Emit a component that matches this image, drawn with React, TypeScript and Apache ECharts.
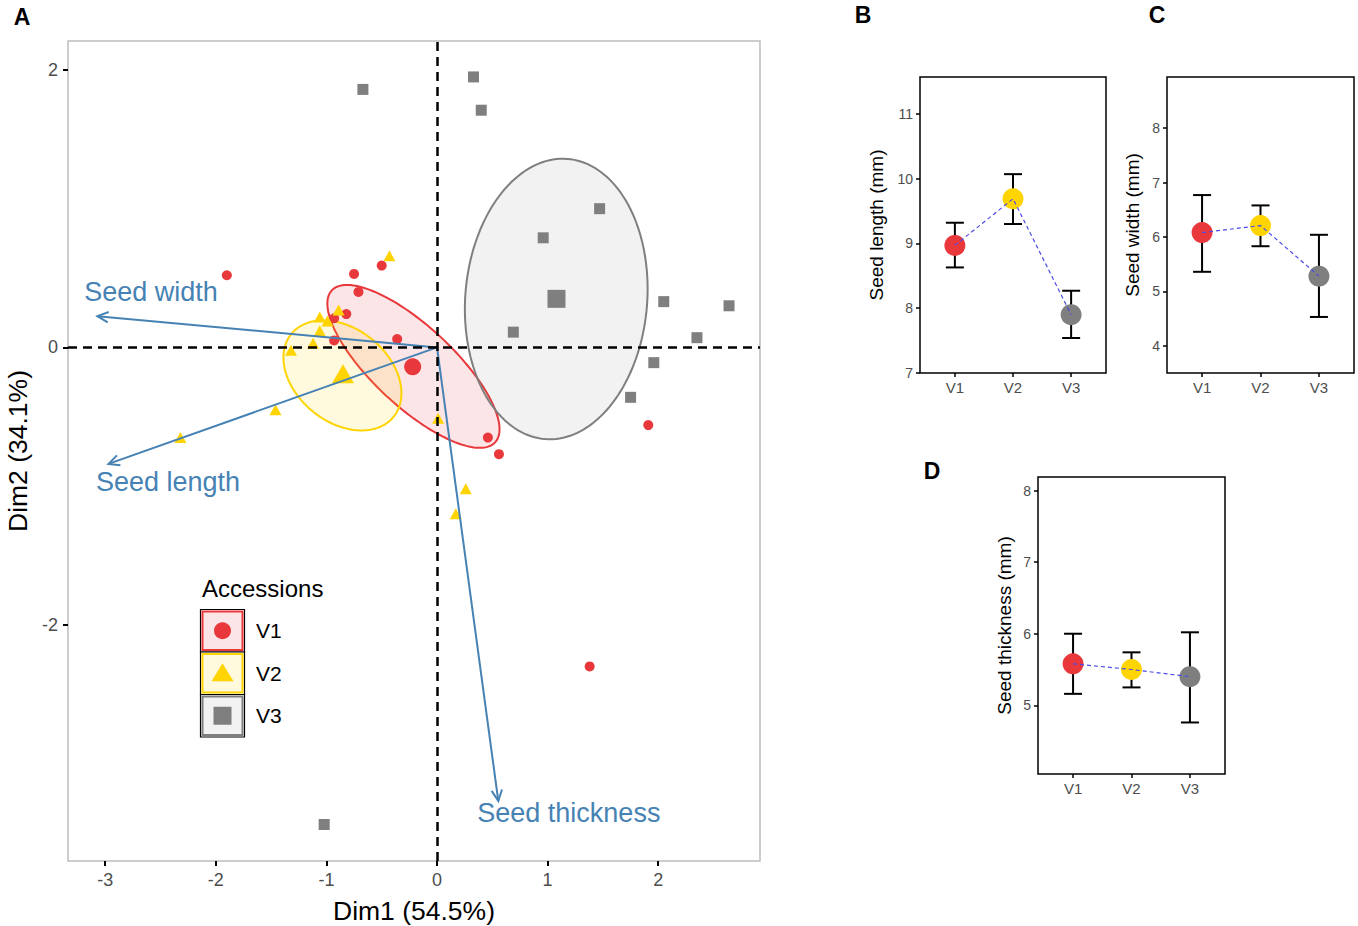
import React, { useEffect, useRef } from "react";
import * as echarts from "echarts";

// ---------- data ----------
const accessions = ["V1", "V2", "V3"];
const groupColors = ["#E8383C", "#FFD400", "#7F7F7F"];
const groupFills = ["rgba(232,56,60,0.13)", "rgba(255,212,0,0.13)", "rgba(127,127,127,0.10)"];

// PCA individual scores (Dim1, Dim2)
const v1Scores = [[-1.90, 0.52], [-0.75, 0.53], [-0.50, 0.59], [-0.71, 0.40], [-0.82, 0.24], [-0.93, 0.21], [-0.36, 0.06], [-0.93, 0.05], [0.46, -0.65], [0.56, -0.77], [1.91, -0.56], [1.38, -2.30]];
const v2Scores = [[-0.43, 0.66], [-1.06, 0.22], [-0.99, 0.19], [-0.89, 0.27], [-1.06, 0.12], [-1.12, 0.03], [-1.32, -0.02], [-1.46, -0.45], [-2.32, -0.65], [0.01, -0.51], [0.26, -1.02], [0.17, -1.20]];
const v3Scores = [[0.33, 1.95], [0.40, 1.71], [-0.67, 1.86], [1.47, 1.00], [0.96, 0.79], [2.05, 0.33], [2.64, 0.30], [0.69, 0.11], [2.35, 0.07], [1.96, -0.11], [1.75, -0.36], [-1.02, -3.44]];
const groupCentroids = [[-0.22, -0.14], [-0.85, -0.19], [1.08, 0.35]];

// confidence ellipses: centre and two conjugate half-axes (data units)
const ellipseCenters = [[-0.213, -0.137], [-0.855, -0.202], [1.078, 0.349]];
const ellipseAxisU = [[0.738, -0.548], [0.463, -0.298], [0.10, 1.01]];
const ellipseAxisV = [[-0.247, -0.211], [-0.265, -0.262], [0.82, -0.05]];

// variable loadings (arrows)
const variableNames = ["Seed width", "Seed length", "Seed thickness"];
const variableLoadings = [[-3.07, 0.225], [-2.97, -0.84], [0.554, -3.27]];
const variableLabelPos = [[-3.19, 0.396], [-3.083, -0.97], [0.364, -3.355]];

const dim1Ticks = [-3, -2, -1, 0, 1, 2];
const dim2Ticks = [-2, 0, 2];

// panel B/C/D means and error bars
const lengthMean = [8.97, 9.69, 7.90];
const lengthLow = [8.63, 9.30, 7.54];
const lengthHigh = [9.32, 10.07, 8.27];
const widthMean = [6.08, 6.21, 5.28];
const widthLow = [5.36, 5.83, 4.53];
const widthHigh = [6.77, 6.58, 6.04];
const thickMean = [5.58, 5.50, 5.40];
const thickLow = [5.16, 5.25, 4.76];
const thickHigh = [6.00, 5.74, 6.02];
const lengthTicks = [7, 8, 9, 10, 11];
const widthTicks = [4, 5, 6, 7, 8];
const thickTicks = [5, 6, 7, 8];

// ---------- style ----------
const FONT = "Liberation Sans, Arial, Helvetica, sans-serif";
const STEEL = "#4682B4";
const TICKCOL = "#4D4D4D";

export default function App() {
  const ref = useRef<HTMLDivElement>(null);

  useEffect(() => {
    if (!ref.current) return;
    const chart = echarts.init(ref.current, undefined, { renderer: "svg" });

    const gridBase = { show: true, containLabel: false, outerBoundsMode: "none", backgroundColor: "transparent" };
    const grids = [
      { ...gridBase, left: 68, top: 41, width: 692, height: 820, borderColor: "#BDBDBD", borderWidth: 1.5 },
      { ...gridBase, left: 920, top: 77, width: 186, height: 296, borderColor: "#000", borderWidth: 1.5 },
      { ...gridBase, left: 1167, top: 77, width: 187, height: 296, borderColor: "#000", borderWidth: 1.5 },
      { ...gridBase, left: 1038, top: 477, width: 187, height: 297, borderColor: "#000", borderWidth: 1.5 },
    ];

    const smallX = (gi: number) => ({
      type: "value",
      gridIndex: gi,
      min: 0.4,
      max: 3.6,
      splitLine: { show: false },
      axisLine: { show: false, onZero: false },
      axisTick: { show: true, customValues: [1, 2, 3], length: 4, lineStyle: { color: "#000", width: 1.5 } },
      axisLabel: {
        show: true,
        customValues: [1, 2, 3],
        formatter: (v: number) => accessions[Math.round(v) - 1] || "",
        color: TICKCOL,
        fontSize: 15,
        fontFamily: FONT,
        margin: 7,
      },
    });

    const smallY = (gi: number, min: number, max: number, ticks: number[], name: string, gap: number) => ({
      type: "value",
      gridIndex: gi,
      min,
      max,
      name,
      nameLocation: "middle",
      nameGap: gap,
      nameTextStyle: { fontSize: 19, fontFamily: FONT, color: "#000" },
      splitLine: { show: false },
      axisLine: { show: false, onZero: false },
      axisTick: { show: true, customValues: ticks, length: 4, lineStyle: { color: "#000", width: 1.5 } },
      axisLabel: { show: true, customValues: ticks, color: TICKCOL, fontSize: 14, fontFamily: FONT, margin: 7 },
    });

    const xAxes = [
      {
        type: "value",
        gridIndex: 0,
        min: -3.336,
        max: 2.92,
        name: "Dim1 (54.5%)",
        nameLocation: "middle",
        nameGap: 36,
        nameTextStyle: { fontSize: 26.5, fontFamily: FONT, color: "#000" },
        splitLine: { show: false },
        axisLine: { show: false, onZero: false },
        axisTick: { show: true, customValues: dim1Ticks, length: 5, lineStyle: { color: "#000", width: 2 } },
        axisLabel: { show: true, customValues: dim1Ticks, color: TICKCOL, fontSize: 18, fontFamily: FONT, margin: 10 },
      },
      smallX(1),
      smallX(2),
      smallX(3),
    ];
    const yAxes = [
      {
        type: "value",
        gridIndex: 0,
        min: -3.703,
        max: 2.209,
        name: "Dim2 (34.1%)",
        nameLocation: "middle",
        nameGap: 37,
        nameTextStyle: { fontSize: 26.5, fontFamily: FONT, color: "#000" },
        splitLine: { show: false },
        axisLine: { show: false, onZero: false },
        axisTick: { show: true, customValues: dim2Ticks, length: 5, lineStyle: { color: "#000", width: 2 } },
        axisLabel: { show: true, customValues: dim2Ticks, color: TICKCOL, fontSize: 18, fontFamily: FONT, margin: 10 },
      },
      smallY(1, 7.0, 11.57, lengthTicks, "Seed length (mm)", 34),
      smallY(2, 3.5, 8.94, widthTicks, "Seed width (mm)", 25),
      smallY(3, 4.04, 8.19, thickTicks, "Seed thickness (mm)", 24),
    ];

    const series: any[] = [];

    // ellipses
    for (let gi = 0; gi < 3; gi++) {
      series.push({
        type: "custom",
        name: accessions[gi] + " ellipse",
        xAxisIndex: 0,
        yAxisIndex: 0,
        silent: true,
        clip: false,
        z: 1,
        data: [ellipseCenters[gi]],
        renderItem: (_p: any, api: any) => {
          const c = ellipseCenters[gi];
          const u = ellipseAxisU[gi];
          const v = ellipseAxisV[gi];
          const pts: number[][] = [];
          const N = 160;
          for (let k = 0; k < N; k++) {
            const t = (2 * Math.PI * k) / N;
            pts.push(api.coord([c[0] + u[0] * Math.cos(t) + v[0] * Math.sin(t), c[1] + u[1] * Math.cos(t) + v[1] * Math.sin(t)]));
          }
          return {
            type: "polygon",
            shape: { points: pts },
            style: { fill: groupFills[gi], stroke: groupColors[gi], lineWidth: 2 },
          };
        },
      });
    }

    // dashed zero lines
    series.push({
      type: "line",
      name: "zero lines",
      xAxisIndex: 0,
      yAxisIndex: 0,
      data: [],
      z: 2,
      markLine: {
        silent: true,
        symbol: ["none", "none"],
        label: { show: false },
        lineStyle: { color: "#000", width: 2.5, type: [9, 6] },
        data: [{ xAxis: 0 }, { yAxis: 0 }],
      },
    });

    // individuals
    const scoreSets = [v1Scores, v2Scores, v3Scores];
    const symbols = ["circle", "triangle", "rect"];
    const smallSizes: any[] = [10, [12, 11], 11];
    const bigSizes: any[] = [17, [22, 19], 18];
    for (let gi = 0; gi < 3; gi++) {
      series.push({
        type: "scatter",
        name: accessions[gi],
        xAxisIndex: 0,
        yAxisIndex: 0,
        z: 3,
        symbol: symbols[gi],
        symbolSize: smallSizes[gi],
        itemStyle: { color: groupColors[gi], opacity: 1 },
        data: scoreSets[gi],
      });
      series.push({
        type: "scatter",
        name: accessions[gi] + " mean",
        xAxisIndex: 0,
        yAxisIndex: 0,
        z: 3,
        symbol: symbols[gi],
        symbolSize: bigSizes[gi],
        itemStyle: { color: groupColors[gi], opacity: 1 },
        data: [groupCentroids[gi]],
      });
    }

    // variable arrows
    series.push({
      type: "custom",
      name: "variables",
      xAxisIndex: 0,
      yAxisIndex: 0,
      silent: true,
      clip: false,
      z: 4,
      data: variableLoadings,
      renderItem: (_p: any, api: any) => {
        const o = api.coord([0, 0]);
        const p = api.coord([api.value(0), api.value(1)]);
        const ang = Math.atan2(p[1] - o[1], p[0] - o[0]);
        const L = 12;
        const a = Math.PI / 7;
        const h1 = [p[0] - L * Math.cos(ang - a), p[1] - L * Math.sin(ang - a)];
        const h2 = [p[0] - L * Math.cos(ang + a), p[1] - L * Math.sin(ang + a)];
        return {
          type: "group",
          children: [
            { type: "line", shape: { x1: o[0], y1: o[1], x2: p[0], y2: p[1] }, style: { stroke: STEEL, lineWidth: 2 } },
            { type: "polyline", shape: { points: [h1, p, h2] }, style: { stroke: STEEL, lineWidth: 2, fill: "none" } },
          ],
        };
      },
    });
    // variable labels
    series.push({
      type: "custom",
      name: "variable labels",
      xAxisIndex: 0,
      yAxisIndex: 0,
      silent: true,
      clip: false,
      z: 5,
      data: variableLabelPos.map((p, i) => ({ value: p, name: variableNames[i] })),
      renderItem: (params: any, api: any) => {
        const p = api.coord([api.value(0), api.value(1)]);
        return {
          type: "text",
          x: p[0],
          y: p[1],
          style: {
            text: variableNames[params.dataIndex],
            fill: STEEL,
            fontSize: 27,
            fontFamily: FONT,
            align: "left",
            verticalAlign: "middle",
          },
        };
      },
    });

    // panels B, C, D
    const panels = [
      { mean: lengthMean, low: lengthLow, high: lengthHigh, name: "Seed length" },
      { mean: widthMean, low: widthLow, high: widthHigh, name: "Seed width" },
      { mean: thickMean, low: thickLow, high: thickHigh, name: "Seed thickness" },
    ];
    panels.forEach((pn, k) => {
      const ai = k + 1;
      series.push({
        type: "custom",
        name: pn.name + " error",
        xAxisIndex: ai,
        yAxisIndex: ai,
        silent: true,
        z: 2,
        data: pn.mean.map((_m, i) => [i + 1, pn.low[i], pn.high[i]]),
        renderItem: (_p: any, api: any) => {
          const lo = api.coord([api.value(0), api.value(1)]);
          const hi = api.coord([api.value(0), api.value(2)]);
          const w = 9;
          const st = { stroke: "#000", lineWidth: 2 };
          return {
            type: "group",
            children: [
              { type: "line", shape: { x1: lo[0], y1: lo[1], x2: hi[0], y2: hi[1] }, style: st },
              { type: "line", shape: { x1: lo[0] - w, y1: lo[1], x2: lo[0] + w, y2: lo[1] }, style: st },
              { type: "line", shape: { x1: hi[0] - w, y1: hi[1], x2: hi[0] + w, y2: hi[1] }, style: st },
            ],
          };
        },
      });
      series.push({
        type: "scatter",
        name: pn.name + " mean",
        xAxisIndex: ai,
        yAxisIndex: ai,
        z: 3,
        symbol: "circle",
        symbolSize: 21,
        data: pn.mean.map((m, i) => ({ value: [i + 1, m], itemStyle: { color: groupColors[i], opacity: 1 } })),
      });
      series.push({
        type: "line",
        name: pn.name + " trend",
        xAxisIndex: ai,
        yAxisIndex: ai,
        z: 4,
        symbol: "none",
        silent: true,
        lineStyle: { color: "#4B4BE8", width: 1.2, type: [4, 3] },
        data: pn.mean.map((m, i) => [i + 1, m]),
      });
    });

    // legend + panel letters
    const keyTop = 609.5;
    const keyH = 42.5;
    const keyX = 200.5;
    const keyW = 44;
    const legendChildren: any[] = [
      { type: "text", x: 202, y: 588, style: { text: "Accessions", fontSize: 24, fontFamily: FONT, fill: "#000", align: "left", verticalAlign: "middle" } },
    ];
    for (let gi = 0; gi < 3; gi++) {
      const y0 = keyTop + gi * keyH;
      const cx = keyX + keyW / 2;
      const cy = y0 + keyH / 2;
      legendChildren.push({ type: "rect", shape: { x: keyX, y: y0, width: keyW, height: keyH }, style: { fill: "#fff", stroke: "#000", lineWidth: 1.2 } });
      legendChildren.push({ type: "rect", shape: { x: keyX + 2, y: y0 + 2, width: keyW - 4, height: keyH - 4 }, style: { fill: groupFills[gi], stroke: groupColors[gi], lineWidth: 2 } });
      if (gi === 0) legendChildren.push({ type: "circle", shape: { cx, cy, r: 8.5 }, style: { fill: groupColors[gi] } });
      if (gi === 1) legendChildren.push({ type: "polygon", shape: { points: [[cx, cy - 10], [cx + 11, cy + 8], [cx - 11, cy + 8]] }, style: { fill: groupColors[gi] } });
      if (gi === 2) legendChildren.push({ type: "rect", shape: { x: cx - 9, y: cy - 9, width: 18, height: 18 }, style: { fill: groupColors[gi] } });
      legendChildren.push({ type: "text", x: 256, y: cy, style: { text: accessions[gi], fontSize: 21, fontFamily: FONT, fill: "#000", align: "left", verticalAlign: "middle" } });
    }
    const letters = [
      { t: "A", x: 22, y: 17 },
      { t: "B", x: 863, y: 15 },
      { t: "C", x: 1157, y: 15 },
      { t: "D", x: 932, y: 471 },
    ];
    letters.forEach((l) =>
      legendChildren.push({
        type: "text",
        x: l.x,
        y: l.y,
        style: { text: l.t, fontSize: 23, fontWeight: "bold", fontFamily: FONT, fill: "#000", align: "center", verticalAlign: "middle" },
      })
    );

    chart.setOption({
      animation: false,
      backgroundColor: "#fff",
      textStyle: { fontFamily: FONT },
      grid: grids,
      xAxis: xAxes,
      yAxis: yAxes,
      series,
      graphic: legendChildren,
    });

    return () => {
      chart.dispose();
    };
  }, []);

  return <div ref={ref} style={{ position: "fixed", left: 0, top: 0, width: 1358, height: 926 }} />;
}
